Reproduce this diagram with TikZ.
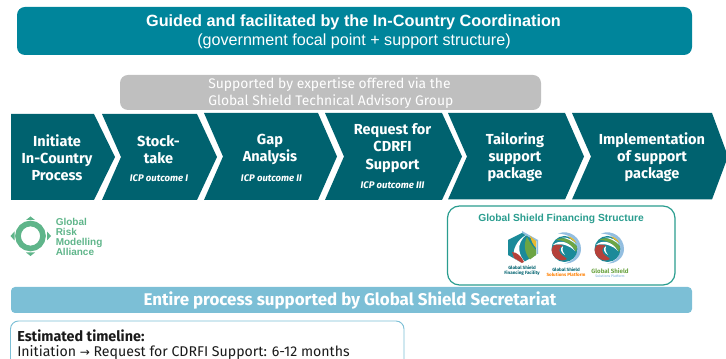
\documentclass[tikz,border=0pt]{standalone}
\usepackage{fontspec}
\setmainfont{Fira Sans}
\newfontfamily\arial{Liberation Sans}
\newfontfamily\dejavu{DejaVu Sans}
\definecolor{hdr}{HTML}{00859B}
\definecolor{chev}{HTML}{00626F}
\definecolor{gry}{HTML}{BFBFBF}
\definecolor{lblue}{HTML}{7CBFD6}
\definecolor{tealb}{HTML}{2A9D8F}
\definecolor{grma}{HTML}{5FB58A}
\definecolor{txtd}{HTML}{1A1A1A}
\definecolor{sred}{HTML}{B5413A}
\definecolor{sgreen}{HTML}{6DA544}
\definecolor{steal}{HTML}{1B8A99}
\definecolor{sblue}{HTML}{6FA8D6}
\definecolor{syellow}{HTML}{E9B92F}
\tikzset{
  chevshape/.style={fill=chev,draw=none},
  chevtext/.style={text=white,font=\bfseries\fontsize{10.9}{12.9}\selectfont,align=center,inner sep=0pt},
  icp/.style={text=white,font=\itshape\bfseries\fontsize{7.2}{8}\selectfont,inner sep=0pt},
  banner/.style={rounded corners=6pt,draw=none},
  logotxt/.style={inner sep=0pt,align=center,font=\bfseries\fontsize{3.4}{4}\selectfont}
}
\newcommand{\swirl}[2]{%
  \begin{scope}[shift={(#1,#2)}]
    % outer arc, top round the right to the bottom
    \fill[sblue!75] (-8,-14.5) .. controls (4,-19) and (15,-10) .. (15,1) .. controls (15,10) and (7,16) .. (-2,15.5) .. controls (6,14) and (12,8) .. (11.5,0) .. controls (11,-9) and (2,-14) .. (-8,-14.5) -- cycle;
    \fill[steal] (-1.5,1) circle[radius=13];
    \fill[sred] (-14.4,2) .. controls (-14,-4) and (-8,-5) .. (-3,-2) .. controls (-8,-1) and (-8,5) .. (-3,8) .. controls (-1,9) and (0,10) .. (1,11) .. controls (-5,15) and (-14,10) .. (-14.4,2) -- cycle;
    \fill[white] (-13,-3) .. controls (-8,-8) and (3,-8) .. (9,3) .. controls (3,-3) and (-4,-5) .. (-13,-3) -- cycle;
    \fill[sgreen] (-10,-8) .. controls (-3,-12) and (6,-9) .. (11,-1) .. controls (11,1) and (11,2) .. (10,4) .. controls (6,-4) and (-2,-8) .. (-10,-8) -- cycle;
    \fill[white] (-4,-10.5) .. controls (2,-11) and (8,-8) .. (11.4,-2) .. controls (7,-7) and (1,-9.5) .. (-4,-10.5) -- cycle;
    \fill[syellow] (2,-11.5) .. controls (6,-11) and (9,-8) .. (10.5,-5) .. controls (7,-7.5) and (4,-9.5) .. (2,-11.5) -- cycle;
    \fill[white] (-3,-2) .. controls (-7,0) and (-5,5) .. (-1,7) .. controls (-4,3) and (-4,0) .. (-3,-2) -- cycle;
  \end{scope}}
\begin{document}
\begin{tikzpicture}[x=0.75pt,y=-0.75pt]
\useasboundingbox (0,0) rectangle (726,359);
\clip (0,0) rectangle (726,359);
% header
\fill[hdr,banner] (17,7) rectangle (692,55);
\node[text=white,font=\arial\bfseries\fontsize{12.2}{14}\selectfont,inner sep=0pt] (h1) at (353.5,22.5) {Guided and facilitated by the In-Country Coordination};
\node[text=white,font=\arial\fontsize{12.1}{14}\selectfont,inner sep=0pt] (h2) at (354,41.5) {(government focal point + support structure)};
% grey
\fill[gry,banner] (120,75) rectangle (541,110);
\node[text=white,font=\fontsize{10.4}{12}\selectfont,inner sep=0pt,anchor=west] (g1) at (208,85) {Supported by expertise offered via the};
\node[text=white,font=\fontsize{10.4}{12}\selectfont,inner sep=0pt,anchor=west] (g2) at (208,102) {Global Shield Technical Advisory Group};
% chevrons
\fill[chevshape] (11,114) -- (94,114) -- (115,157) -- (94,200) -- (11,200) -- cycle;
\fill[chevshape] (102,114) -- (197,114) -- (217,157) -- (197,200) -- (102,200) -- (121,157) -- cycle;
\fill[chevshape] (204,113) -- (318,113) -- (337,156.5) -- (318,200) -- (204,200) -- (223,156.5) -- cycle;
\fill[chevshape] (325,113) -- (442,113) -- (462,156.5) -- (442,200) -- (325,200) -- (344,156.5) -- cycle;
\fill[chevshape] (448,113) -- (565,113) -- (584,156.5) -- (565,199.5) -- (448,199.5) -- (467,156.5) -- cycle;
\fill[chevshape] (572,113) -- (712,113) -- (728,156.5) -- (712,199.5) -- (572,199.5) -- (591,156.5) -- cycle;
\node[chevtext] (c1) at (57,158) {Initiate\\In-Country\\Process};
\node[chevtext] (c2) at (158.5,150) {Stock-\\take};
\node[icp] (c2b) at (159,178) {ICP outcome I};
\node[chevtext] (c3) at (270,149.5) {Gap\\Analysis};
\node[icp] (c3b) at (271.5,178) {ICP outcome II};
\node[chevtext] (c4) at (392.5,148) {Request for\\CDRFI\\Support};
\node[icp] (c4b) at (392.5,185.5) {ICP outcome III};
\node[chevtext] (c5) at (515,157.5) {Tailoring\\support\\package};
\node[chevtext] (c6) at (652,157.5) {Implementation\\of support\\package};
% GRMA logo
\draw[grma,line width=4.2pt] (30.5,236) circle[radius=12.5];
\fill[grma] (30.5,216.5) -- (26,220) -- (35,220) -- cycle;
\fill[grma] (30.5,256) -- (26,252.5) -- (35,252.5) -- cycle;
\fill[grma] (10.5,236) -- (14.5,231.5) -- (14.5,240.5) -- cycle;
\fill[grma] (51,236) -- (47,231.5) -- (47,240.5) -- cycle;
\node[text=grma,font=\arial\bfseries\fontsize{7.5}{7.6}\selectfont,align=left,anchor=west,inner sep=0pt] (grmat) at (55.5,237) {Global\\Risk\\Modelling\\Alliance};
% financing box
\draw[tealb,line width=0.9pt,fill=white,rounded corners=9pt] (447.5,206) rectangle (675,285);
\node[text=tealb,font=\arial\bfseries\fontsize{7.7}{9}\selectfont,inner sep=0pt] (fin) at (561,219) {Global Shield Financing Structure};
% hexagon logo
\fill[sblue!75] (522,231) -- (538,240) -- (538,254) -- (536.5,254) -- (536.5,241) -- (522,232.8) -- cycle;
\fill[steal] (522,233) -- (536,241) -- (536,255) -- (522,263) -- (508,255) -- (508,240) -- cycle;
\fill[white] (526,235) .. controls (516,244) and (518,255) .. (526,263) -- (522,263) -- (514,258) .. controls (512,250) and (517,240) .. (526,235) -- cycle;
\fill[sgreen] (527,237) .. controls (523,245) and (525,254) .. (530,259.5) -- (536,255) -- (536,250) .. controls (533,247) and (530,243) .. (527,237) -- cycle;
\fill[syellow] (530,236) -- (536,241) -- (536,248) .. controls (533,245) and (531,240) .. (530,236) -- cycle;
\fill[sred] (512,252) .. controls (517,252) and (522,257) .. (524,262) -- (522,263) -- (514,258) -- cycle;
\node[logotxt,text=chev] (l1) at (522,271) {Global Shield\\Financing Facility};
\swirl{566}{248}
\node[logotxt,text=chev] (l2) at (566,272.5) {Global Shield\\\textcolor{orange}{Solutions Platform}};
\swirl{609}{248}
\node[logotxt,text=sgreen,font=\bfseries\fontsize{4.6}{5}\selectfont] (l3) at (610,271) {Global Shield};
\node[logotxt,text=sblue,font=\fontsize{2.6}{3}\selectfont] (l3b) at (610,276) {Solutions Platform};
% secretariat
\fill[lblue,rounded corners=3pt] (11,287) rectangle (692,313);
\node[text=white,font=\bfseries\fontsize{12.7}{14}\selectfont,inner sep=0pt] (sec) at (350,300.5) {Entire process supported by Global Shield Secretariat};
% timeline
\draw[lblue,line width=0.7pt,rounded corners=6pt,fill=white] (10.5,321) rectangle (404,380);
\node[text=txtd,font=\bfseries\fontsize{10.8}{12}\selectfont,anchor=west,inner sep=0pt] (t1) at (17,335.5) {Estimated timeline:};
\node[text=txtd,font=\fontsize{10.6}{12}\selectfont,anchor=west,inner sep=0pt] (t2) at (17,352) {Initiation {\dejavu\fontsize{9}{10}\selectfont →} Request for CDRFI Support: 6-12 months};
\end{tikzpicture}
\end{document}
